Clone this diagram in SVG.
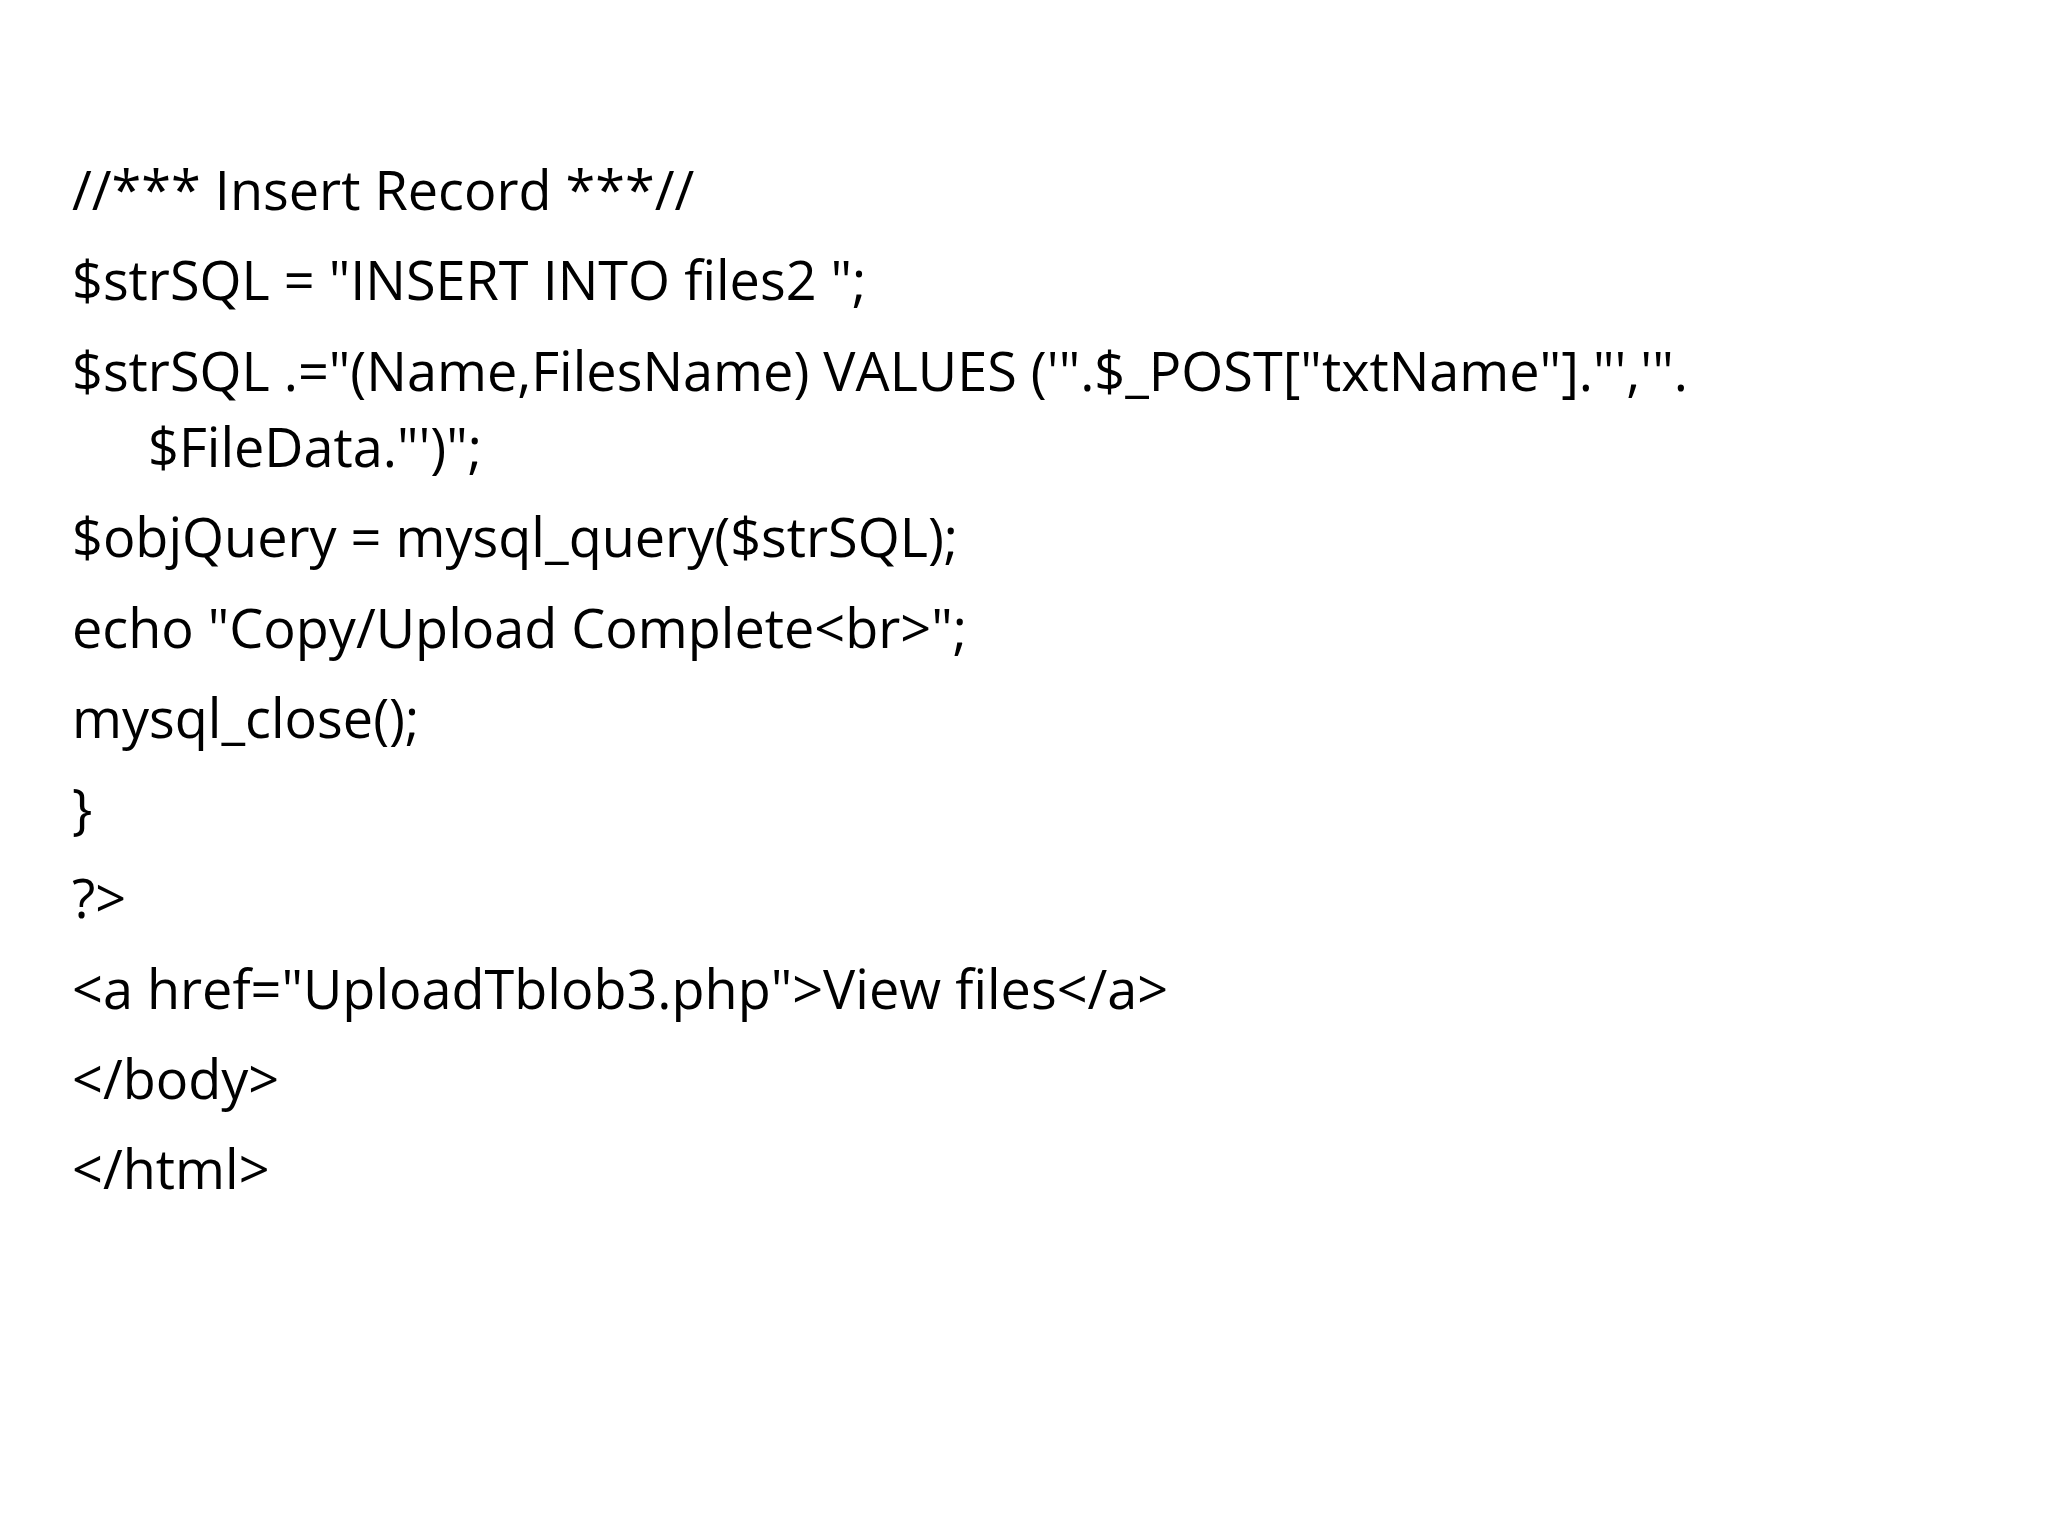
<svg xmlns="http://www.w3.org/2000/svg" width="2048" height="1536" viewBox="0 0 2048 1536">
<style>text{font-family:"Open Sans","Liberation Sans",sans-serif;font-size:54px;fill:#000}</style>
<rect width="2048" height="1536" fill="#fff"/>
<g id="code">
<text x="72" y="210">//*** Insert Record ***//</text>
<text x="72" y="300">$strSQL = "INSERT INTO files2 ";</text>
<text x="72" y="391">$strSQL .="(Name,FilesName) VALUES ('".$_POST["txtName"]."','".</text>
<text x="148" y="467">$FileData."')";</text>
<text x="72" y="557">$objQuery = mysql_query($strSQL);</text>
<text x="72" y="648">echo "Copy/Upload Complete&lt;br&gt;";</text>
<text x="72" y="738">mysql_close();</text>
<text x="72" y="828">}</text>
<text x="72" y="918">?&gt;</text>
<text x="72" y="1009">&lt;a href="UploadTblob3.php"&gt;View files&lt;/a&gt;</text>
<text x="72" y="1099">&lt;/body&gt;</text>
<text x="72" y="1189">&lt;/html&gt;</text>
</g>
</svg>
